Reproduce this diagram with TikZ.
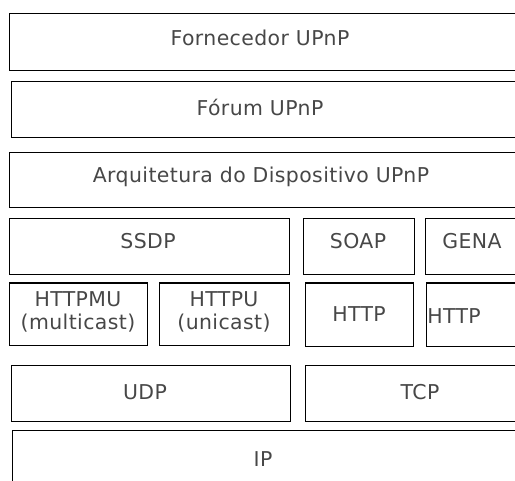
\documentclass[tikz,border=0pt]{standalone}
\usepackage{fontspec}
\setmainfont{DejaVu Sans}[LetterSpace=2]
\begin{document}
\begin{tikzpicture}[x=1bp,y=-1bp,
  box/.style={draw=black,line width=0.9bp,rectangle,inner sep=0pt,anchor=north west},
  topbar/.style={line width=2.6bp,black},
  lbl/.style={text=black!72,font=\fontsize{20.5}{23}\selectfont,inner sep=0pt,align=center}]
\useasboundingbox (0,0) rectangle (515,481);
\clip (0,0) rectangle (515,481);
% layer boxes
\node[box,minimum width=540bp,minimum height=57bp] (forn) at (9,13) {};
\node[box,minimum width=540bp,minimum height=56bp] (forum) at (11,81) {};
\node[box,minimum width=540bp,minimum height=55bp] (arq) at (9,152) {};
\node[box,minimum width=280bp,minimum height=56bp] (ssdp) at (9,218) {};
\node[box,minimum width=111bp,minimum height=56bp] (soap) at (303,218) {};
\node[box,minimum width=120bp,minimum height=56bp] (gena) at (425,218) {};
\node[box,minimum width=138bp,minimum height=62bp] (httpmu) at (9,283) {};
\node[box,minimum width=130bp,minimum height=62bp] (httpu) at (159,283) {};
\node[box,minimum width=108bp,minimum height=63bp] (http1) at (305,283) {};
\node[box,minimum width=120bp,minimum height=63bp] (http2) at (426,283) {};
\node[box,minimum width=279bp,minimum height=56bp] (udp) at (11,365) {};
\node[box,minimum width=240bp,minimum height=56bp] (tcp) at (305,365) {};
\node[box,minimum width=540bp,minimum height=80bp] (ip) at (12,430) {};
% thick top edges of the HTTP row
\draw[topbar] (httpmu.north west) -- (httpmu.north east);
\draw[topbar] (httpu.north west) -- (httpu.north east);
\draw[topbar] (http1.north west) -- (http1.north east);
\draw[topbar] (http2.north west) -- (http2.north east);
% labels
\node[lbl] (fornT) at (260,38) {Fornecedor UPnP};
\node[lbl] (forumT) at (260,107) {Fórum UPnP};
\node[lbl] (arqT) at (261,177) {Arquitetura do Dispositivo UPnP};
\node[lbl] (ssdpT) at (148,241) {SSDP};
\node[lbl] (soapT) at (358,241) {SOAP};
\node[lbl] (genaT) at (472,241) {GENA};
\node[lbl] (httpmuT) at (78,312) {HTTPMU\\(multicast)};
\node[lbl] (httpuT) at (224,312) {HTTPU\\(unicast)};
\node[lbl] (http1T) at (359,314) {HTTP};
\node[lbl] (http2T) at (454,316) {HTTP};
\node[lbl] (udpT) at (145,392) {UDP};
\node[lbl] (tcpT) at (420,392) {TCP};
\node[lbl] (ipT) at (263,459) {IP};
\end{tikzpicture}
\end{document}
